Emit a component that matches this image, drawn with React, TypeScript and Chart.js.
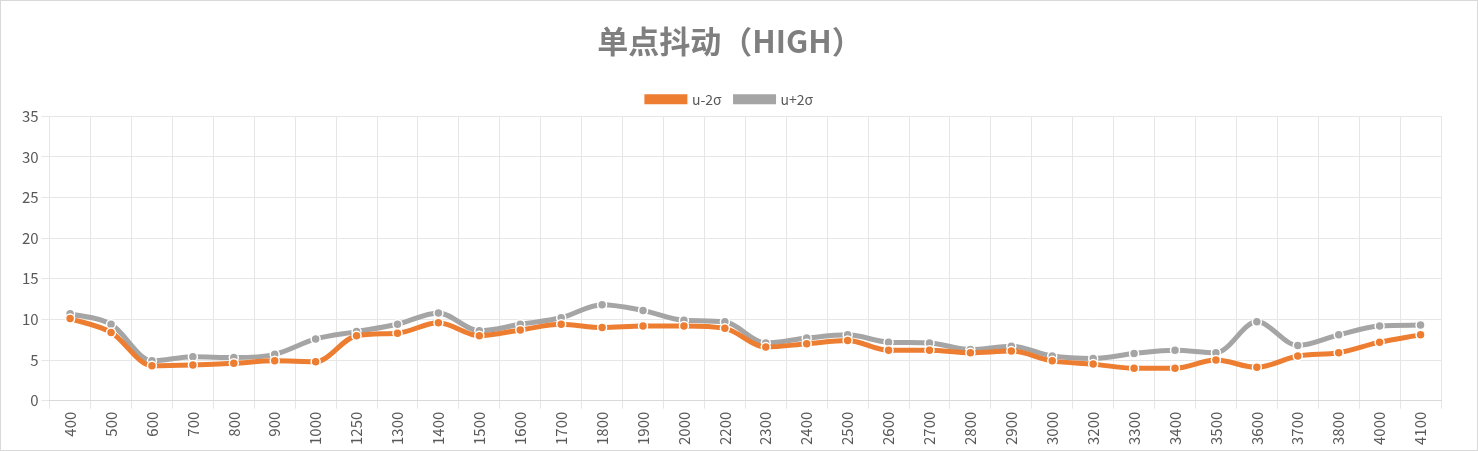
import { useEffect, useRef } from 'react'
import { Chart, registerables } from 'chart.js'

Chart.register(...registerables)

const categories = ['400', '500', '600', '700', '800', '900', '1000', '1250', '1300', '1400', '1500', '1600', '1700', '1800', '1900', '2000', '2200', '2300', '2400', '2500', '2600', '2700', '2800', '2900', '3000', '3200', '3300', '3400', '3500', '3600', '3700', '3800', '4000', '4100']
const lower = [10.1, 8.4, 4.3, 4.4, 4.6, 4.9, 4.8, 8.0, 8.3, 9.6, 8.0, 8.7, 9.4, 9.0, 9.2, 9.2, 8.9, 6.6, 7.0, 7.4, 6.2, 6.2, 5.9, 6.1, 4.9, 4.5, 4.0, 4.0, 5.0, 4.1, 5.5, 5.9, 7.2, 8.1]
const upper = [10.7, 9.4, 4.9, 5.4, 5.3, 5.7, 7.6, 8.5, 9.4, 10.8, 8.6, 9.4, 10.2, 11.8, 11.1, 9.9, 9.7, 7.1, 7.7, 8.1, 7.2, 7.1, 6.3, 6.7, 5.5, 5.2, 5.8, 6.2, 5.9, 9.7, 6.8, 8.1, 9.2, 9.3]

const font = '"Microsoft YaHei", "Noto Sans CJK SC", "Noto Sans", sans-serif'

export default function App() {
  const chartRef = useRef<HTMLCanvasElement>(null)

  useEffect(() => {
    if (!chartRef.current) return
    const mk = (label: string, data: number[], color: string) => ({
      label,
      data,
      borderColor: color,
      backgroundColor: color,
      borderWidth: 5,
      pointRadius: 4.5,
      pointBorderColor: '#ffffff',
      pointBorderWidth: 1.5,
      pointBackgroundColor: color,
      cubicInterpolationMode: 'monotone' as const,
    })
    const chart = new Chart(chartRef.current, {
      type: 'line',
      data: {
        labels: categories,
        datasets: [mk('u-2σ', lower, '#ed7d31'), mk('u+2σ', upper, '#a5a5a5')],
      },
      options: {
        animation: false,
        responsive: false,
        layout: { padding: { left: 18, right: 36, top: 14, bottom: 2 } },
        plugins: {
          title: {
            display: true,
            text: '单点抖动（HIGH）',
            color: '#7f7f7f',
            font: { family: font, size: 31, weight: 'bold' },
            padding: { top: 8, bottom: 18 },
          },
          legend: {
            labels: {
              color: '#595959',
              font: { family: font, size: 14 },
              boxWidth: 38,
              boxHeight: 5,
              padding: 14,
            },
          },
        },
        scales: {
          x: {
            offset: true,
            grid: { color: '#e6e6e6', offset: true },
            border: { color: '#d9d9d9' },
            ticks: { color: '#595959', font: { family: font, size: 15 }, minRotation: 90, maxRotation: 90 },
          },
          y: {
            min: 0,
            max: 35,
            ticks: { stepSize: 5, color: '#595959', font: { family: font, size: 15 } },
            grid: { color: '#e6e6e6' },
            border: { display: false },
          },
        },
      },
    })
    return () => chart.destroy()
  }, [])

  return (
    <div style={{ position: 'absolute', left: 0, top: 0, width: 1478, height: 451, background: '#fff', boxSizing: 'border-box', border: '1px solid #d9d9d9' }}>
      <canvas ref={chartRef} width={1476} height={449} />
    </div>
  )
}
